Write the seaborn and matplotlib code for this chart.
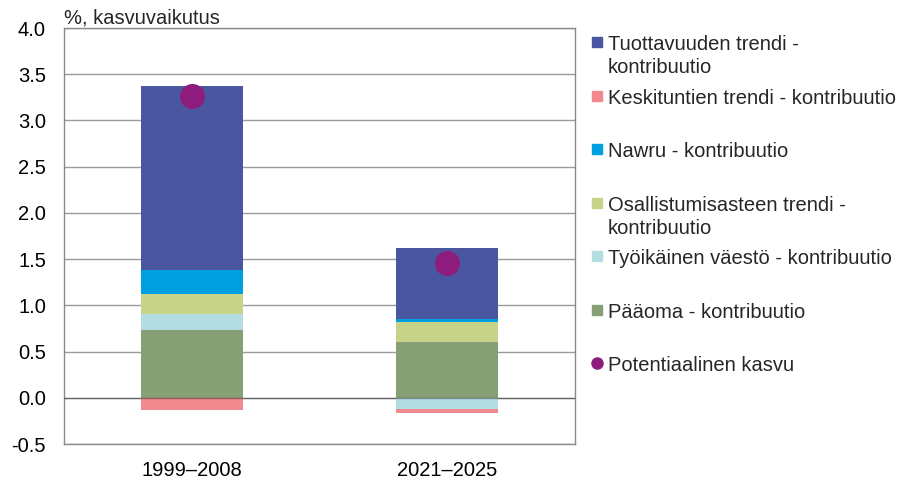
import numpy as np
import matplotlib
matplotlib.use("Agg")
import matplotlib.pyplot as plt
from matplotlib.lines import Line2D
import seaborn as sns

periods = ["1999–2008", "2021–2025"]
tuottavuus = [1.99, 0.77]
keskituntien = [-0.13, -0.05]
nawru = [0.26, 0.03]
osallistumis = [0.21, 0.22]
tyoikainen = [0.18, -0.12]
paaoma = [0.73, 0.60]
potentiaalinen = [3.26, 1.46]

labels = {
    "tuottavuus": "Tuottavuuden trendi -\nkontribuutio",
    "keskituntien": "Keskituntien trendi - kontribuutio\n",
    "nawru": "Nawru - kontribuutio\n",
    "osallistumis": "Osallistumisasteen trendi -\nkontribuutio",
    "tyoikainen": "Työikäinen väestö - kontribuutio\n",
    "paaoma": "Pääoma - kontribuutio\n",
    "potentiaalinen": "Potentiaalinen kasvu\n",
}
colors = {
    "tuottavuus": "#4B56A0",
    "keskituntien": "#F08A8E",
    "nawru": "#009FE0",
    "osallistumis": "#C8D38A",
    "tyoikainen": "#B4DDE2",
    "paaoma": "#879F75",
    "potentiaalinen": "#8E1C7F",
}
series = {
    "tuottavuus": tuottavuus,
    "keskituntien": keskituntien,
    "nawru": nawru,
    "osallistumis": osallistumis,
    "tyoikainen": tyoikainen,
    "paaoma": paaoma,
}
stack_order = ["paaoma", "tyoikainen", "osallistumis", "nawru", "tuottavuus", "keskituntien"]
legend_order = ["tuottavuus", "keskituntien", "nawru", "osallistumis", "tyoikainen", "paaoma"]

FS = 14.5

sns.set_theme(style="white")
plt.rcParams["font.family"] = ["Liberation Sans", "DejaVu Sans"]
plt.rcParams["axes.unicode_minus"] = False

fig = plt.figure(figsize=(9.11, 4.79), dpi=100)
ax = fig.add_axes([64 / 911, 35 / 479, 511 / 911, 416 / 479])

# stack positives upwards and negatives downwards
pos_base = np.zeros(len(periods))
neg_base = np.zeros(len(periods))
for key in stack_order:
    vals = np.array(series[key])
    bottom = np.where(vals >= 0, pos_base, neg_base)
    sns.barplot(x=periods, y=vals, bottom=bottom, color=colors[key], width=0.4,
                linewidth=0, errorbar=None, saturation=1, ax=ax, zorder=2)
    pos_base += np.where(vals >= 0, vals, 0)
    neg_base += np.where(vals < 0, vals, 0)

ax.axhline(0, color="black", alpha=0.35, lw=1, zorder=3)

sns.stripplot(x=periods, y=potentiaalinen, jitter=False, size=18,
              color=colors["potentiaalinen"], linewidth=0, ax=ax, zorder=5)

ax.set_ylim(-0.5, 4.0)
ticks = np.arange(-0.5, 4.01, 0.5)
ax.set_yticks(ticks)
ax.set_yticklabels([f"{v:.1f}" for v in ticks])
ax.yaxis.grid(True, color="#9a9a9a", lw=1, zorder=0)
ax.set_axisbelow(True)
for s in ax.spines.values():
    s.set_color("#8a8a8a")
    s.set_linewidth(1)
ax.tick_params(axis="both", length=0, labelsize=FS, colors="black")
ax.tick_params(axis="y", pad=13)
ax.tick_params(axis="x", pad=12)
ax.set_xlabel("")
ax.set_ylabel("")
ax.text(0.0, 1.0, "%, kasvuvaikutus", transform=ax.transAxes, ha="left",
        va="bottom", fontsize=FS)

handles = [Line2D([], [], marker="s", ls="", color=colors[k], markersize=7.2)
           for k in legend_order]
handles.append(Line2D([], [], marker="o", ls="", color=colors["potentiaalinen"],
                      markersize=8))
leg_labels = [labels[k] for k in legend_order] + [labels["potentiaalinen"]]
leg = ax.legend(handles, leg_labels, loc="upper left",
                bbox_to_anchor=(592 / 911, 1 - 35 / 479),
                bbox_transform=fig.transFigure, frameon=False, fontsize=FS,
                handlelength=0.5, handletextpad=0.3, labelspacing=0.57,
                borderpad=0, borderaxespad=0)
for t in leg.get_texts():
    t.set_linespacing(1.27)
for col in leg._legend_handle_box.get_children():
    for item in col.get_children():
        item.align = "top"

fig.savefig("out.png", dpi=100)
